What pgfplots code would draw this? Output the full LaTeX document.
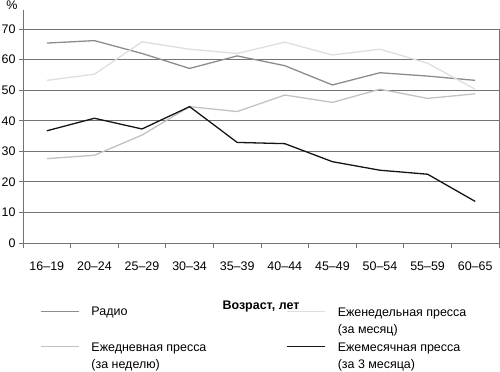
\documentclass[border=0pt]{standalone}
\usepackage{fontspec}
\setmainfont{Liberation Sans}
\usepackage{pgfplots}
\pgfplotsset{compat=1.18}
\definecolor{gridc}{gray}{0.45}
\definecolor{radio}{gray}{0.55}
\definecolor{weekly}{gray}{0.87}
\definecolor{daily}{gray}{0.76}
\definecolor{monthly}{gray}{0.08}
\begin{document}
\begin{tikzpicture}[font=\fontsize{12.5}{16.5}\selectfont]
\begin{axis}[
  scale only axis, width=476bp, height=214bp,
  xmin=-0.5, xmax=9.5, ymin=0, ymax=70,
  clip=false,
  axis line style={gridc, line width=0.8pt},
  ytick={0,10,...,70},
  ymajorgrids, grid style={gridc, line width=0.8pt},
  xtick={0,...,9},
  xticklabels={16–19,20–24,25–29,30–34,35–39,40–44,45–49,50–54,55–59,60–65},
  major x tick style={draw=none},
  minor xtick={-0.5,0.5,...,9.5},
  tick align=outside, xtick pos=bottom, ytick pos=left,
  major tick length=4bp, minor tick length=5bp,
  tick style={gridc, line width=0.8pt},
  /pgf/number format/assume math mode=true,
  xticklabel style={yshift=-11bp},
  xlabel={Возраст, лет},
  every axis x label/.style={at={(axis description cs:0.5,0)}, anchor=center, yshift=-64bp,
     font=\fontsize{12.5}{15}\selectfont\bfseries},
  legend columns=2,
  legend cell align=left,
  legend style={at={(axis description cs:0,0)}, anchor=north west, xshift=14bp, yshift=-57bp,
    draw=none, fill=none, row sep=16bp,
    nodes={inner sep=3bp},
    /tikz/every odd column/.append style={column sep=9bp},
    /tikz/every even column/.append style={column sep=10bp}},
  legend image code/.code={\draw[#1] (0bp,0bp) -- (38bp,0bp);},
  every axis plot/.append style={line width=1.3pt},
]
\addplot[radio] coordinates {(0,65.4)(1,66.2)(2,62.0)(3,57.1)(4,61.2)(5,58.0)(6,51.7)(7,55.7)(8,54.6)(9,53.2)};
\addlegendentry{\makebox[182bp][l]{Радио}}
\addplot[weekly] coordinates {(0,53.2)(1,55.2)(2,65.8)(3,63.4)(4,62.0)(5,65.7)(6,61.5)(7,63.4)(8,58.8)(9,50.3)};
\addlegendentry{\begin{tabular}[t]{@{}l@{}}Еженедельная пресса\\(за месяц)\end{tabular}}
\addplot[daily] coordinates {(0,27.6)(1,28.7)(2,35.3)(3,44.6)(4,43.0)(5,48.4)(6,46.0)(7,50.3)(8,47.3)(9,48.8)};
\addlegendentry{\begin{tabular}[t]{@{}l@{}}Ежедневная пресса\\(за неделю)\end{tabular}}
\addplot[monthly] coordinates {(0,36.7)(1,40.8)(2,37.3)(3,44.6)(4,32.9)(5,32.5)(6,26.6)(7,23.8)(8,22.5)(9,13.6)};
\addlegendentry{\begin{tabular}[t]{@{}l@{}}Ежемесячная пресса\\(за 3 месяца)\end{tabular}}
\draw[gridc, line width=0.8pt] (rel axis cs:0,1) -- (rel axis cs:0,1.089);
\node[anchor=center] at (rel axis cs:0,1) [xshift=-11bp, yshift=24bp] {\%};
\end{axis}
\pgfresetboundingbox
\path[use as bounding box] (-23bp,-129bp) rectangle (477bp,243bp);
\end{tikzpicture}
\end{document}
